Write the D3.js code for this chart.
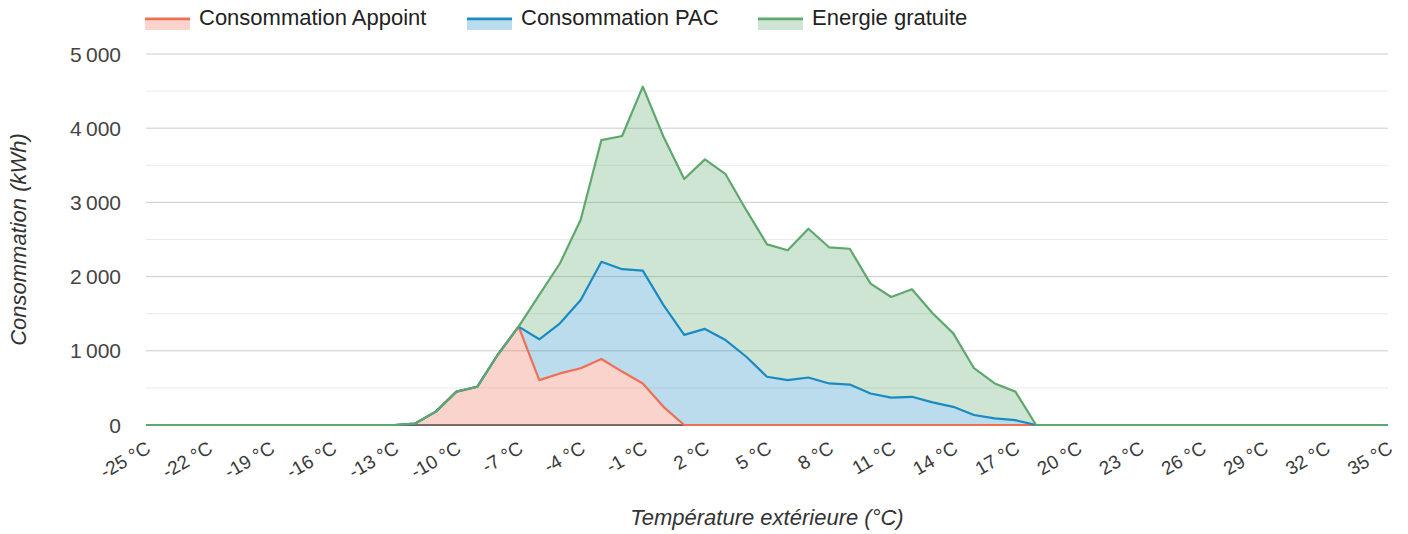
<!DOCTYPE html>
<html>
<head>
<meta charset="utf-8">
<script src="https://cdn.jsdelivr.net/npm/d3@7"></script>
<style>
  body { margin: 0; background: #fff; }
  svg { font-family: "Liberation Sans", Arial, sans-serif; }
</style>
</head>
<body>
<div id="chart"></div>
<script>
// outdoor temperature, one point per degree
const temperatures = [-25,-24,-23,-22,-21,-20,-19,-18,-17,-16,-15,-14,-13,-12,-11,-10,-9,-8,-7,-6,-5,-4,-3,-2,-1,
  0,1,2,3,4,5,6,7,8,9,10,11,12,13,14,15,16,17,18,19,20,21,22,23,24,25,26,27,28,29,30,31,32,33,34,35];

const appoint = [0,0,0,0,0,0,0,0,0,0,0,0,0,20,180,450,515,950,1325,605,695,765,890,720,560,
  245,0,0,0,0,0,0,0,0,0,0,0,0,0,0,0,0,0,0,0,0,0,0,0,0,0,0,0,0,0,0,0,0,0,0,0];

const pac = [0,0,0,0,0,0,0,0,0,0,0,0,0,0,0,0,0,0,0,550,675,920,1310,1380,1520,
  1370,1215,1295,1145,920,650,605,640,560,545,425,370,380,305,245,135,90,65,0,0,0,0,0,0,0,0,0,0,0,0,0,0,0,0,0,0];

const gratuite = [0,0,0,0,0,0,0,0,0,0,0,0,0,0,0,0,0,0,0,600,810,1080,1640,1795,2480,
  2270,2100,2285,2235,1975,1785,1750,2005,1835,1830,1480,1355,1450,1200,990,630,470,385,0,0,0,0,0,0,0,0,0,0,0,0,0,0,0,0,0,0];

const seriesNames = ["Consommation Appoint", "Consommation PAC", "Energie gratuite"];
const seriesColors = ["#ef6f55", "#1a8ac4", "#5fa86d"];
const yTicks = [0, 1000, 2000, 3000, 4000, 5000];
const xTickLabels = [-25,-22,-19,-16,-13,-10,-7,-4,-1,2,5,8,11,14,17,20,23,26,29,32,35];

const W = 1408, H = 534;
const margin = {top: 54, right: 20, bottom: 109, left: 146};
const plotW = W - margin.left - margin.right;
const plotH = H - margin.top - margin.bottom;

const svg = d3.select("#chart").append("svg")
    .attr("width", W)
    .attr("height", H);

const x = d3.scaleLinear().domain([-25, 35]).range([margin.left, margin.left + plotW]);
const y = d3.scaleLinear().domain([0, 5000]).range([margin.top + plotH, margin.top]);

const rows = temperatures.map((t, i) => ({t: t, appoint: appoint[i], pac: pac[i], gratuite: gratuite[i]}));
const stacked = d3.stack().keys(["appoint", "pac", "gratuite"])(rows);

// gridlines (minor every 500, major every 1000)
const grid = svg.append("g");
d3.range(500, 5001, 1000).forEach(v => {
  grid.append("line")
    .attr("x1", x(-25)).attr("x2", x(35))
    .attr("y1", y(v)).attr("y2", y(v))
    .attr("stroke", "#ebebeb").attr("stroke-width", 1);
});
yTicks.filter(v => v > 0).forEach(v => {
  grid.append("line")
    .attr("x1", x(-25)).attr("x2", x(35))
    .attr("y1", y(v)).attr("y2", y(v))
    .attr("stroke", "#cccccc").attr("stroke-width", 1);
});
// baseline
grid.append("line")
  .attr("x1", x(-25)).attr("x2", x(35))
  .attr("y1", y(0)).attr("y2", y(0))
  .attr("stroke", "#333").attr("stroke-width", 1.5);

// y tick labels
svg.append("g").selectAll("text")
  .data(yTicks)
  .join("text")
  .attr("x", 121)
  .attr("y", d => y(d) + 7.5)
  .attr("text-anchor", "end")
  .attr("fill", "#444")
  .style("font-size", "21px")
  .text(d => d3.format(",")(d).replace(",", "\u202f"));

// x tick labels, slanted
svg.append("g").selectAll("text")
  .data(xTickLabels)
  .join("text")
  .attr("transform", d => "translate(" + (x(d) - 1) + ",440) rotate(-30)")
  .attr("text-anchor", "end")
  .attr("dy", "0.72em")
  .attr("fill", "#3a3a3a")
  .style("font-size", "19px")
  .text(d => d + " °C");

// areas
const area = d3.area()
  .x(d => x(d.data.t))
  .y0(d => y(d[0]))
  .y1(d => y(d[1]));

const line = d3.line()
  .x(d => x(d.data.t))
  .y(d => y(d[1]));

svg.append("g").selectAll("path")
  .data(stacked)
  .join("path")
  .attr("d", area)
  .attr("fill", (d, i) => seriesColors[i])
  .attr("fill-opacity", 0.3);

svg.append("g").selectAll("path")
  .data(stacked)
  .join("path")
  .attr("d", line)
  .attr("fill", "none")
  .attr("stroke", (d, i) => seriesColors[i])
  .attr("stroke-width", 2.2)
  .attr("stroke-linejoin", "round");

// legend
const legendX = [145, 467, 758];
const legend = svg.append("g").selectAll("g")
  .data(seriesNames)
  .join("g")
  .attr("transform", (d, i) => "translate(" + legendX[i] + ",0)");
legend.append("rect")
  .attr("x", 0).attr("y", 17).attr("width", 45).attr("height", 13)
  .attr("fill", (d, i) => seriesColors[i]).attr("fill-opacity", 0.3);
legend.append("line")
  .attr("x1", 0).attr("x2", 45).attr("y1", 19).attr("y2", 19)
  .attr("stroke", (d, i) => seriesColors[i]).attr("stroke-width", 2.5);
legend.append("text")
  .attr("x", 54).attr("y", 25)
  .attr("fill", "#222")
  .style("font-size", "22px")
  .text(d => d);

// axis titles
svg.append("text")
  .attr("x", (x(-25) + x(35)) / 2)
  .attr("y", 525)
  .attr("text-anchor", "middle")
  .attr("fill", "#333")
  .style("font-size", "22px")
  .style("font-style", "italic")
  .text("Température extérieure (°C)");

svg.append("text")
  .attr("transform", "translate(26," + ((y(0) + y(5000)) / 2) + ") rotate(-90)")
  .attr("text-anchor", "middle")
  .attr("fill", "#333")
  .style("font-size", "22px")
  .style("font-style", "italic")
  .text("Consommation (kWh)");
</script>
</body>
</html>
